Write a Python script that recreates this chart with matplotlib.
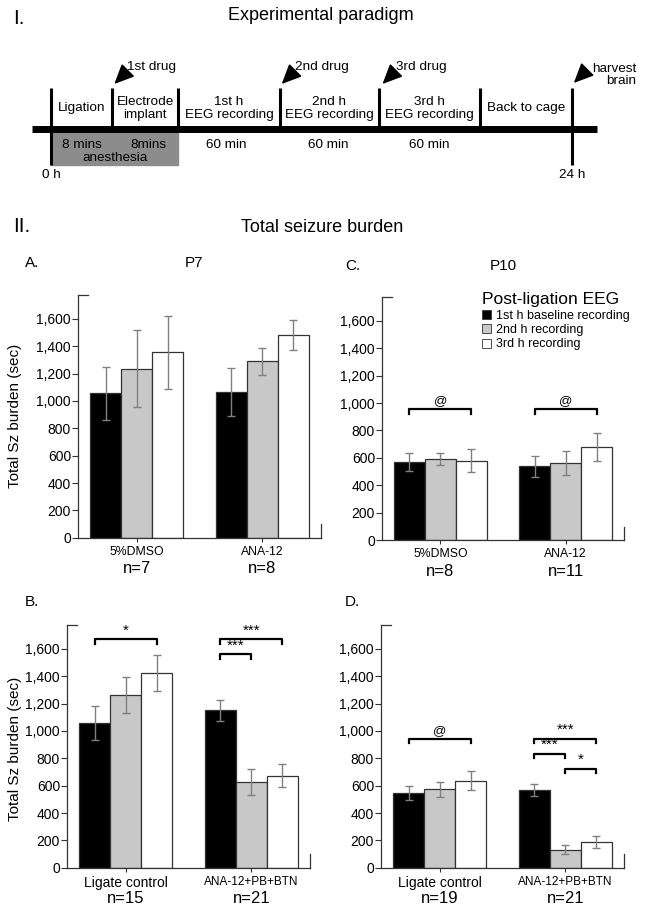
import matplotlib.pyplot as plt
from matplotlib.patches import Rectangle

plt.rcParams['font.family'] = ['Liberation Sans', 'DejaVu Sans']

series = ["1st h baseline recording", "2nd h recording", "3rd h recording"]
bar_colors = ["#000000", "#c8c8c8", "#ffffff"]

# A. P7
a_groups = ["5%DMSO", "ANA-12"]
a_n = ["n=7", "n=8"]
a_mean = [[1055, 1235, 1356], [1068, 1290, 1482]]
a_err = [[195, 282, 268], [175, 97, 108]]

# B. P7
b_groups = ["Ligate control", "ANA-12+PB+BTN"]
b_n = ["n=15", "n=21"]
b_mean = [[1061, 1263, 1422], [1151, 627, 673]]
b_err = [[125, 135, 132], [76, 94, 85]]

# C. P10
c_groups = ["5%DMSO", "ANA-12"]
c_n = ["n=8", "n=11"]
c_mean = [[571, 592, 580], [537, 564, 681]]
c_err = [[66, 47, 83], [77, 89, 101]]

# D. P10
d_groups = ["Ligate control", "ANA-12+PB+BTN"]
d_n = ["n=19", "n=21"]
d_mean = [[549, 573, 637], [569, 130, 189]]
d_err = [[52, 56, 70], [43, 33, 42]]

# significance brackets: (group, first bar, last bar, height, mark)
a_sig = []
b_sig = [(0, 0, 2, 1671, "*"), (1, 0, 2, 1671, "***"), (1, 0, 1, 1561, "***")]
c_sig = [(0, 0, 2, 955, "@"), (1, 0, 2, 955, "@")]
d_sig = [(0, 0, 2, 941, "@"), (1, 0, 2, 941, "***"), (1, 0, 1, 831, "***"),
         (1, 1, 2, 723, "*")]

# timeline (pixel positions of the schematic)
tick_x = [51.4, 111.9, 178.1, 279.7, 379.2, 480.4, 571.7]
seg_top = ["Ligation", "Electrode\nimplant", "1st h\nEEG recording",
           "2nd h\nEEG recording", "3rd h\nEEG recording", "Back to cage"]
seg_bottom = [("8 mins", 82), ("8mins", 148), ("60 min", 226), ("60 min", 328), ("60 min", 429)]
drugs = [("1st drug", 114.3), ("2nd drug", 281.7), ("3rd drug", 382.5)]

W, H = 645, 915
fig = plt.figure(figsize=(W / 100, H / 100), dpi=100)
ov = fig.add_axes([0, 0, 1, 1])
ov.set_xlim(0, W)
ov.set_ylim(H, 0)
ov.axis('off')

# ---- I. Experimental paradigm
BAR_Y = 128.5
ov.text(13, 18, "I.", fontsize=15, va='center')
ov.text(321, 16, "Experimental paradigm", fontsize=13, ha='center', va='center')
ov.add_patch(Rectangle((51.4, BAR_Y), 126.7, 165 - BAR_Y, color='#8c8c8c', zorder=1))
ov.plot([32, 597], [BAR_Y, BAR_Y], lw=5, color='black', solid_capstyle='butt', zorder=3)
for i, x in enumerate(tick_x):
    y1 = 165 if i in (0, len(tick_x) - 1) else BAR_Y
    ov.plot([x, x], [88, y1], lw=2.2, color='black', solid_capstyle='butt', zorder=3)
for i, lab in enumerate(seg_top):
    xc = (tick_x[i] + tick_x[i + 1]) / 2
    ov.text(xc, 108.5, lab, fontsize=9.7, ha='center', va='center', linespacing=1.05)
for lab, x in seg_bottom:
    ov.text(x, 145, lab, fontsize=9.7, ha='center', va='center')
ov.text(115, 158, "anesthesia", fontsize=9.7, ha='center', va='center')
ov.text(51, 175, "0 h", fontsize=9.7, ha='center', va='center')
ov.text(571.7, 175, "24 h", fontsize=9.7, ha='center', va='center')
arrow = dict(arrowstyle='-|>,head_length=0.55,head_width=0.25', color='black',
             lw=1.2, shrinkA=0, shrinkB=0, mutation_scale=22)
for lab, x in drugs:
    ov.annotate('', xy=(x, 84), xytext=(x + 12, 72), arrowprops=arrow)
    ov.text(x + 13, 67, lab, fontsize=9.7, ha='left', va='center')
ov.annotate('', xy=(573.8, 83), xytext=(585.8, 71), arrowprops=arrow)
ov.text(636, 75, "harvest\nbrain", fontsize=9.7, ha='right', va='center',
        multialignment='right', linespacing=1.1)

# ---- II. Total seizure burden
ov.text(13, 227, "II.", fontsize=15, va='center')
ov.text(322, 227, "Total seizure burden", fontsize=13, ha='center', va='center')
ov.text(25, 263, "A.", fontsize=11, va='center')
ov.text(194, 263, "P7", fontsize=11, ha='center', va='center')
ov.text(345, 266, "C.", fontsize=11, va='center')
ov.text(503, 266, "P10", fontsize=11, ha='center', va='center')
ov.text(25, 602, "B.", fontsize=11, va='center')
ov.text(345, 602, "D.", fontsize=11, va='center')
for yc in (416, 749):
    ov.text(15, yc, "Total Sz burden (sec)", fontsize=11, rotation=90,
            ha='center', va='center')

centers = [0, 4.06]


def panel(box, groups, ns, means, errs, sig, cat_sizes):
    l, t, r, b = box
    ax = fig.add_axes([l / W, 1 - b / H, (r - l) / W, (b - t) / H])
    bars = []
    for k in range(3):
        xs = [c + k - 1 for c in centers]
        bc = ax.bar(xs, [m[k] for m in means], 1.0, yerr=[e[k] for e in errs],
                    color=bar_colors[k], edgecolor='#333333', linewidth=0.9,
                    label=series[k],
                    error_kw=dict(ecolor='#808080', elinewidth=1, capsize=3, capthick=1))
        bars.append(bc)
    ax.set_xlim(-1.89, 5.95)
    ax.set_ylim(0, 1775)
    for s in ('top', 'right'):
        ax.spines[s].set_visible(False)
    for s in ('left', 'bottom'):
        ax.spines[s].set_color('#333333')
        ax.spines[s].set_linewidth(0.9)
    ax.plot([0, 0.04], [1, 1], transform=ax.transAxes, color='#333333', lw=0.9, clip_on=False)
    ax.plot([1, 1], [0, 0.055], transform=ax.transAxes, color='#333333', lw=0.9, clip_on=False)
    yt = list(range(0, 1601, 200))
    ax.set_yticks(yt)
    ax.set_yticklabels([f"{v:,}" for v in yt])
    ax.tick_params(axis='y', length=4, width=0.8, color='#333333', labelsize=10, pad=1)
    ax.set_xticks(centers)
    ax.set_xticklabels(groups)
    ax.tick_params(axis='x', length=3, width=0.8, color='#333333', pad=3)
    for lab, fs in zip(ax.get_xticklabels(), cat_sizes):
        lab.set_fontsize(fs)
    for c, n in zip(centers, ns):
        ax.text(c, -0.128, n, fontsize=12, ha='center', va='center',
                transform=ax.get_xaxis_transform())
    for g, i, j, y, mark in sig:
        x1 = centers[g] + i - 1
        x2 = centers[g] + j - 1
        ax.plot([x1, x1, x2, x2], [y - 32, y, y, y - 32], color='black', lw=1.6)
        fs = 9.5 if mark == "@" else 11
        ax.text((x1 + x2) / 2, y + 14, mark, fontsize=fs, ha='center', va='bottom')
    return ax, bars


panel((78, 295, 321, 537.7), a_groups, a_n, a_mean, a_err, a_sig, (8.8, 8.8))
panel((67, 625, 310, 867.7), b_groups, b_n, b_mean, b_err, b_sig, (10, 8.5))
axc, bars = panel((382, 297, 624, 540), c_groups, c_n, c_mean, c_err, c_sig, (8.8, 8.8))
panel((381, 625, 624, 867.7), d_groups, d_n, d_mean, d_err, d_sig, (10, 8.5))

leg = axc.legend(handles=bars, title="Post-ligation EEG", loc='upper left',
                 bbox_to_anchor=(482, 292), bbox_transform=ov.transData,
                 frameon=False, fontsize=9, title_fontsize=12.5, alignment='left',
                 handlelength=0.7, handleheight=0.7, handletextpad=0.4,
                 labelspacing=0.2, borderpad=0, borderaxespad=0)
for p in leg.get_patches():
    p.set_linewidth(0.6)

fig.savefig("out.png", dpi=100)
